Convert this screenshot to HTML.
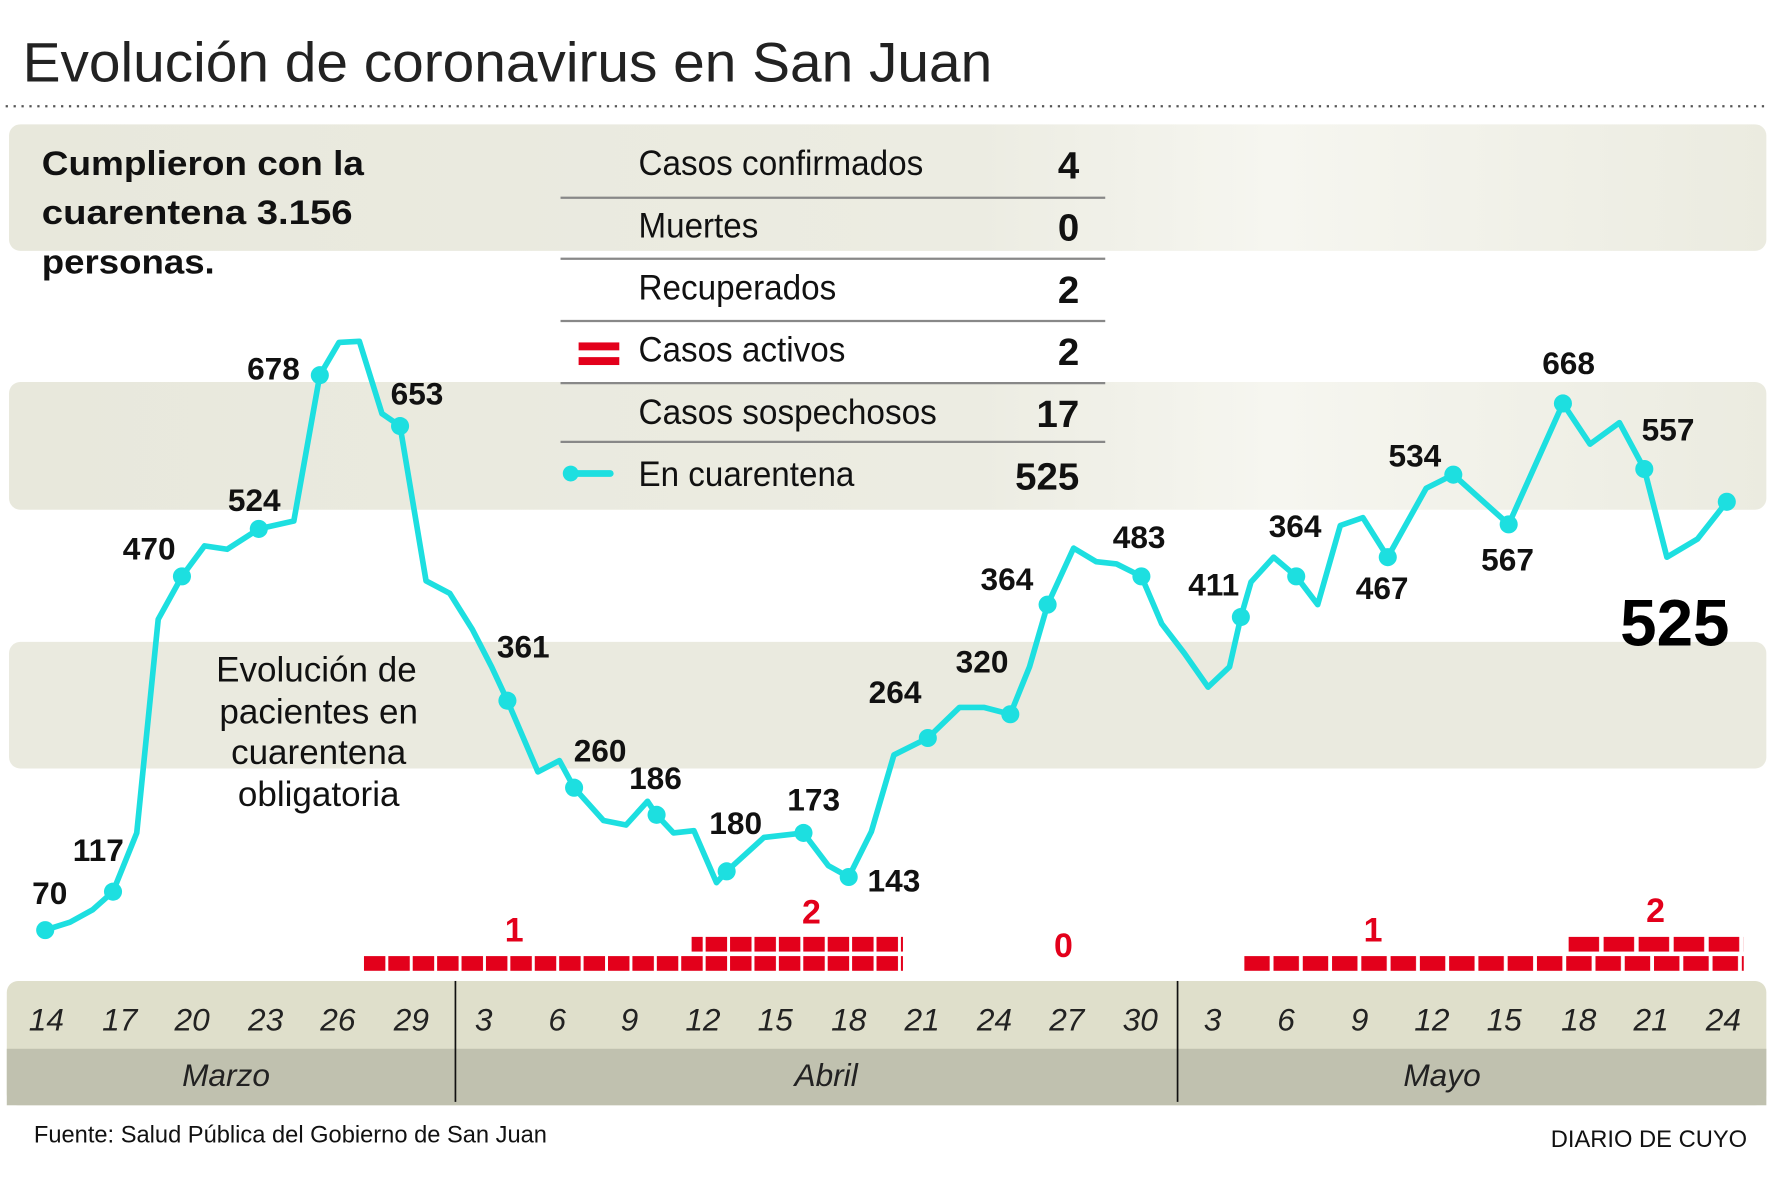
<!DOCTYPE html>
<html><head><meta charset="utf-8"><style>
html,body{margin:0;padding:0;background:#fff}
svg{display:block}
text{font-family:"Liberation Sans Narrow","Liberation Sans",sans-serif}
.lab{font-weight:bold;font-size:28px;text-anchor:middle;fill:#111}
.tk{font-style:italic;font-size:28px;text-anchor:middle;fill:#222}
.red{fill:#e3001b;font-weight:bold;font-size:30px;text-anchor:middle}
</style></head><body>
<svg width="1772" height="1181" viewBox="0 0 1568 1045" preserveAspectRatio="none" xmlns="http://www.w3.org/2000/svg">
<defs>
<linearGradient id="g" x1="0" x2="1"><stop offset="0" stop-color="#e8e8dc"/><stop offset="0.55" stop-color="#ececE2"/><stop offset="0.72" stop-color="#f6f6f0"/><stop offset="1" stop-color="#ebebe0"/></linearGradient>
<pattern id="pA" x="322" y="0" width="21.6" height="20" patternUnits="userSpaceOnUse"><rect x="0" y="0" width="19" height="20" fill="#e3001b"/></pattern>
<pattern id="pM" x="1101" y="0" width="25.9" height="20" patternUnits="userSpaceOnUse"><rect x="0" y="0" width="22.5" height="20" fill="#e3001b"/></pattern>
<pattern id="pM2" x="1388" y="0" width="31" height="20" patternUnits="userSpaceOnUse"><rect x="0" y="0" width="27" height="20" fill="#e3001b"/></pattern>
</defs>
<text x="20" y="72" font-size="49" fill="#222" style="font-family:'Liberation Sans',sans-serif" textLength="858" lengthAdjust="spacingAndGlyphs">Evolución de coronavirus en San Juan</text>
<line x1="5" y1="94" x2="1565" y2="94" stroke="#555" stroke-width="2" stroke-dasharray="2,5"/>
<rect x="8" y="110" width="1555" height="112" rx="10" fill="url(#g)"/>
<rect x="8" y="338" width="1555" height="113" rx="10" fill="url(#g)"/>
<rect x="8" y="568" width="1555" height="112" rx="10" fill="#eaeadf"/>
<rect x="6" y="868" width="1557" height="110" rx="10" fill="#dfdfcb"/>
<rect x="6" y="928" width="1557" height="50" fill="#c0c1af"/>
<line x1="403" y1="868" x2="403" y2="975" stroke="#111" stroke-width="1.5"/>
<line x1="1042" y1="868" x2="1042" y2="975" stroke="#111" stroke-width="1.5"/>
<g font-weight="bold" font-size="30" fill="#111">
<text x="37" y="155" style="font-family:'Liberation Sans',sans-serif" textLength="285" lengthAdjust="spacingAndGlyphs">Cumplieron con la</text>
<text x="37" y="198" style="font-family:'Liberation Sans',sans-serif" textLength="275" lengthAdjust="spacingAndGlyphs">cuarentena  3.156</text>
<text x="37" y="242" style="font-family:'Liberation Sans',sans-serif" textLength="153" lengthAdjust="spacingAndGlyphs">personas.</text>
</g>
<g stroke="#888" stroke-width="2">
<line x1="496" y1="175" x2="978" y2="175"/><line x1="496" y1="229" x2="978" y2="229"/>
<line x1="496" y1="284" x2="978" y2="284"/><line x1="496" y1="339" x2="978" y2="339"/>
<line x1="496" y1="391" x2="978" y2="391"/>
</g>
<g font-size="31" fill="#111">
<text x="565" y="155" textLength="252" lengthAdjust="spacingAndGlyphs">Casos confirmados</text>
<text x="565" y="210" textLength="106" lengthAdjust="spacingAndGlyphs">Muertes</text>
<text x="565" y="265" textLength="175" lengthAdjust="spacingAndGlyphs">Recuperados</text>
<text x="565" y="320" textLength="183" lengthAdjust="spacingAndGlyphs">Casos activos</text>
<text x="565" y="375" textLength="264" lengthAdjust="spacingAndGlyphs">Casos sospechosos</text>
<text x="565" y="430" textLength="191" lengthAdjust="spacingAndGlyphs">En cuarentena</text>
</g>
<g font-size="34" font-weight="bold" fill="#111" text-anchor="end">
<text x="955" y="158">4</text><text x="955" y="213">0</text><text x="955" y="268">2</text>
<text x="955" y="323">2</text><text x="955" y="378">17</text><text x="955" y="433">525</text>
</g>
<rect x="512" y="303" width="36" height="7" fill="#e3001b"/><rect x="512" y="316" width="36" height="7" fill="#e3001b"/>
<line x1="505" y1="419" x2="540" y2="419" stroke="#1ddfe0" stroke-width="6" stroke-linecap="round"/><circle cx="505" cy="419" r="7" fill="#1ddfe0"/>
<g font-size="31" fill="#111" text-anchor="middle">
<text x="280" y="603">Evolución de</text><text x="282" y="640">pacientes en</text>
<text x="282" y="676">cuarentena</text><text x="282" y="713">obligatoria</text>
</g>
<polyline fill="none" stroke="#1ddfe0" stroke-width="5" stroke-linejoin="round" points="40,823 62,816 82,805 100,789 121,737 140,548 161,510 181,483 201,486 229,468 260,461 283,332 300,303 318,302 338,366 354,377 377,514 398,525 418,557 435,590 449,620 476,683 495,673 508,697 534,726 554,730 573,709 581,721 596,737 614,735 634,781 643,771 676,741 711,737 733,766 751,776 771,736 791,668 821,653 849,626 871,626 894,632 911,590 927,535 950,485 970,497 988,499 1010,510 1028,552 1048,578 1069,608 1088,590 1098,546 1107,515 1127,493 1147,510 1166,535 1186,465 1206,458 1228,493 1262,432 1286,420 1335,464 1383,357 1407,393 1433,374 1455,415 1475,493 1502,477 1528,444"/>
<g fill="#1ddfe0">
<circle cx="40" cy="823" r="8"/><circle cx="100" cy="789" r="8"/><circle cx="161" cy="510" r="8"/><circle cx="229" cy="468" r="8"/><circle cx="283" cy="332" r="8"/><circle cx="354" cy="377" r="8"/><circle cx="449" cy="620" r="8"/><circle cx="508" cy="697" r="8"/><circle cx="581" cy="721" r="8"/><circle cx="643" cy="771" r="8"/><circle cx="711" cy="737" r="8"/><circle cx="751" cy="776" r="8"/><circle cx="821" cy="653" r="8"/><circle cx="894" cy="632" r="8"/><circle cx="927" cy="535" r="8"/><circle cx="1010" cy="510" r="8"/><circle cx="1098" cy="546" r="8"/><circle cx="1147" cy="510" r="8"/><circle cx="1228" cy="493" r="8"/><circle cx="1286" cy="420" r="8"/><circle cx="1335" cy="464" r="8"/><circle cx="1383" cy="357" r="8"/><circle cx="1455" cy="415" r="8"/><circle cx="1528" cy="444" r="8"/>
</g>
<g>
<text class="lab" x="44" y="800">70</text><text class="lab" x="87" y="762">117</text><text class="lab" x="132" y="495">470</text><text class="lab" x="225" y="452">524</text><text class="lab" x="242" y="336">678</text><text class="lab" x="369" y="358">653</text><text class="lab" x="463" y="582">361</text><text class="lab" x="531" y="674">260</text><text class="lab" x="580" y="698">186</text><text class="lab" x="651" y="738">180</text><text class="lab" x="720" y="717">173</text><text class="lab" x="791" y="789">143</text><text class="lab" x="792" y="622">264</text><text class="lab" x="869" y="595">320</text><text class="lab" x="891" y="522">364</text><text class="lab" x="1008" y="485">483</text><text class="lab" x="1074" y="527">411</text><text class="lab" x="1146" y="475">364</text><text class="lab" x="1223" y="530">467</text><text class="lab" x="1252" y="413">534</text><text class="lab" x="1334" y="505">567</text><text class="lab" x="1388" y="331">668</text><text class="lab" x="1476" y="390">557</text>
</g>
<text x="1482" y="571" font-size="58" font-weight="bold" text-anchor="middle" fill="#000">525</text>
<rect x="322" y="846" width="477" height="13" fill="url(#pA)"/>
<rect x="612" y="829" width="187" height="13" fill="url(#pA)"/>
<rect x="1101" y="846" width="442" height="13" fill="url(#pM)"/>
<rect x="1388" y="829" width="155" height="13" fill="url(#pM2)"/>
<g>
<text class="red" x="455" y="833">1</text><text class="red" x="718" y="817">2</text><text class="red" x="941" y="847">0</text><text class="red" x="1215" y="833">1</text><text class="red" x="1465" y="816">2</text>
</g>
<g>
<text class="tk" x="41" y="912">14</text><text class="tk" x="106" y="912">17</text><text class="tk" x="170" y="912">20</text><text class="tk" x="235" y="912">23</text><text class="tk" x="299" y="912">26</text><text class="tk" x="364" y="912">29</text><text class="tk" x="428" y="912">3</text><text class="tk" x="493" y="912">6</text><text class="tk" x="557" y="912">9</text><text class="tk" x="622" y="912">12</text><text class="tk" x="686" y="912">15</text><text class="tk" x="751" y="912">18</text><text class="tk" x="816" y="912">21</text><text class="tk" x="880" y="912">24</text><text class="tk" x="944" y="912">27</text><text class="tk" x="1009" y="912">30</text><text class="tk" x="1073" y="912">3</text><text class="tk" x="1138" y="912">6</text><text class="tk" x="1203" y="912">9</text><text class="tk" x="1267" y="912">12</text><text class="tk" x="1331" y="912">15</text><text class="tk" x="1397" y="912">18</text><text class="tk" x="1461" y="912">21</text><text class="tk" x="1525" y="912">24</text>
<text class="tk" x="200" y="961">Marzo</text><text class="tk" x="731" y="961">Abril</text><text class="tk" x="1276" y="961">Mayo</text>
</g>
<text x="30" y="1011" font-size="21" fill="#111" textLength="454" lengthAdjust="spacingAndGlyphs">Fuente: Salud Pública del Gobierno de San Juan</text>
<text x="1546" y="1015" font-size="21" fill="#111" text-anchor="end">DIARIO DE CUYO</text>
</svg>
</body></html>
